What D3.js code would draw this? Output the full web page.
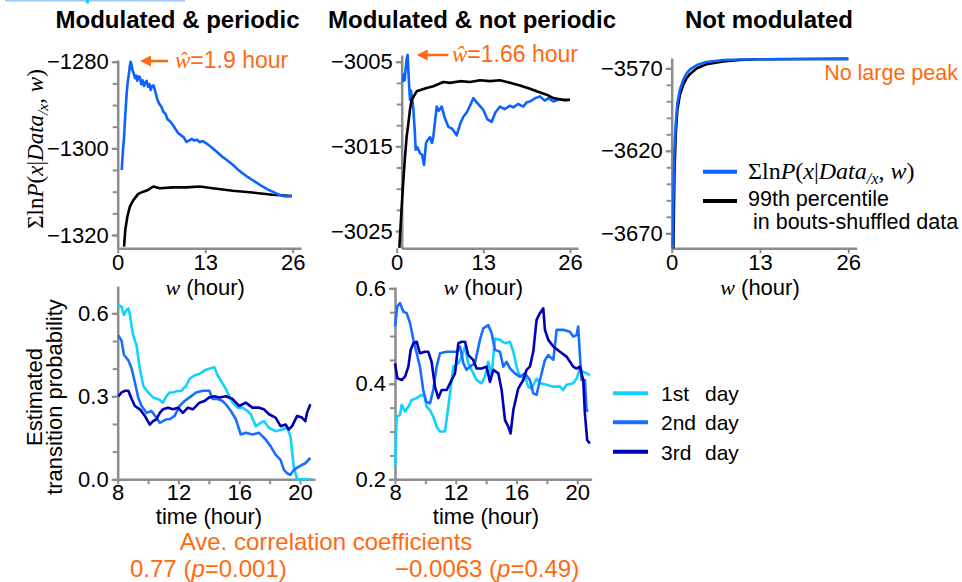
<!DOCTYPE html>
<html>
<head>
<meta charset="utf-8">
<script src="https://cdn.jsdelivr.net/npm/d3@7"></script>
<style>
  body { margin: 0; background: #fff; }
  svg { display: block; }
  text { font-family: "Liberation Sans", Arial, sans-serif; }
</style>
</head>
<body>
<div id="chart"></div>
<script>
// ---- data ----
// top row: [w (hour), sum log-likelihood]
const periodicBlue = [[0.6,-1305],[0.8,-1300],[0.94,-1297.5],[1.1,-1293],[1.33,-1287.3],[1.5,-1284.5],[1.65,-1283],[1.8,-1281],[1.92,-1280],[2.05,-1280.6],[2.2,-1282],[2.4,-1282.8],[2.56,-1283.8],[2.75,-1283.2],[2.9,-1284.4],[3.1,-1283.4],[3.3,-1283.6],[3.5,-1285.2],[3.7,-1284.3],[3.9,-1285.6],[4.1,-1284.8],[4.3,-1284.4],[4.5,-1285.8],[4.7,-1285.2],[4.9,-1286.5],[5.1,-1285.6],[5.35,-1285.5],[5.6,-1287],[5.9,-1288.8],[6.2,-1289.8],[6.5,-1290.4],[6.8,-1291.6],[7.1,-1292],[7.4,-1293.3],[7.8,-1293.8],[8.2,-1294.6],[8.6,-1295.6],[9.0,-1296.5],[9.4,-1297],[9.8,-1297.4],[10.2,-1298.5],[10.6,-1298.2],[11.0,-1297.8],[11.4,-1298.2],[11.8,-1298],[12.2,-1298.6],[12.6,-1298.3],[13.0,-1298.7],[13.5,-1299.2],[14.1,-1300],[14.8,-1300.9],[15.6,-1302],[16.3,-1302.8],[17.1,-1303.8],[17.8,-1304.8],[18.6,-1305.8],[19.3,-1306.6],[20,-1307.3],[20.8,-1308.1],[21.5,-1308.8],[22.2,-1309.4],[23,-1310],[23.8,-1310.6],[24.5,-1311],[25.2,-1311.1],[25.9,-1311]];
const periodicBlack = [[0.94,-1322.7],[1.13,-1318.8],[1.43,-1315.8],[1.8,-1313.5],[2.3,-1312],[3.05,-1310.5],[3.8,-1310],[4.5,-1309.6],[5.3,-1308.8],[6.25,-1309.2],[8.2,-1309],[10.2,-1309],[12.2,-1308.8],[14.1,-1309.2],[17.1,-1309.8],[20,-1310.2],[23,-1310.7],[25.9,-1311]];
const notPeriodicBlue = [[0.9,-3007.4],[1.05,-3006.5],[1.2,-3007.2],[1.35,-3005.8],[1.5,-3004.6],[1.65,-3004.2],[1.75,-3006],[1.85,-3007.6],[2.0,-3009.5],[2.15,-3008.4],[2.25,-3009.1],[2.4,-3009.8],[2.5,-3010.7],[2.7,-3013],[2.85,-3015.4],[3.1,-3015.1],[3.5,-3015.8],[3.8,-3016],[4.1,-3017.2],[4.4,-3014.6],[4.7,-3014.2],[5,-3013.9],[5.3,-3014.6],[5.5,-3013.8],[6,-3010.3],[6.3,-3010.8],[6.75,-3010.3],[7.2,-3011.6],[7.75,-3012.7],[8.3,-3012.9],[9,-3013.7],[9.5,-3012.4],[10,-3011.5],[10.5,-3011],[11,-3010.2],[11.5,-3009.3],[12,-3009.8],[13,-3010.7],[13.6,-3011.8],[14.25,-3012.1],[14.8,-3011],[15.5,-3010.3],[16.2,-3010.6],[17,-3010.2],[17.5,-3010.4],[18.2,-3010],[19,-3010.3],[19.5,-3009.8],[20,-3009.7],[20.8,-3009.3],[21.5,-3009.1],[22.2,-3009.6],[22.8,-3009.3],[23.5,-3009.7],[24.5,-3009.4],[25.2,-3009.6],[26,-3009.5]];
const notPeriodicBlack = [[0.4,-3027],[0.75,-3022.1],[1.0,-3019],[1.25,-3016.2],[1.5,-3013.8],[1.75,-3012.3],[2.0,-3010.6],[2.25,-3009.5],[3,-3008.5],[4.5,-3008.1],[5.5,-3007.9],[7,-3007.4],[8,-3007.5],[9.5,-3007.3],[11,-3007.4],[12.5,-3007.2],[14,-3007.3],[15.5,-3007.2],[17,-3007.5],[18.5,-3007.8],[20,-3008.2],[21,-3008.5],[22.5,-3008.9],[23.5,-3009.3],[24.8,-3009.5],[26,-3009.5]];
const flatBlue = [[0.15,-3679],[0.25,-3650],[0.4,-3619.6],[0.6,-3603.4],[0.83,-3591.3],[1.2,-3583],[1.7,-3577],[2.2,-3573],[2.7,-3570.6],[3.7,-3568],[5.1,-3566.2],[7.6,-3565],[10,-3564.7],[14,-3564.5],[20,-3564.4],[26,-3564.3]];
const flatBlack = [[0.25,-3679],[0.4,-3633.8],[0.6,-3609.5],[0.83,-3595.3],[1.2,-3586.2],[1.7,-3580],[2.2,-3576],[2.7,-3573.4],[3.7,-3570],[5.1,-3567.6],[7.6,-3565.8],[10,-3565],[12.5,-3564.5],[20,-3564.4],[26,-3564.3]];

// bottom row: [time (hour), estimated transition probability]
const periodicDay1 = [[8.04,0.63],[8.26,0.624],[8.41,0.594],[8.59,0.612],[8.70,0.618],[8.81,0.594],[8.92,0.551],[9.02,0.52],[9.24,0.484],[9.46,0.40],[9.68,0.338],[10.0,0.314],[10.33,0.296],[10.77,0.287],[10.98,0.277],[11.2,0.30],[11.42,0.314],[11.64,0.314],[11.86,0.318],[12.18,0.32],[12.51,0.338],[12.73,0.363],[13.05,0.375],[13.38,0.381],[13.71,0.393],[14.03,0.40],[14.36,0.405],[14.58,0.375],[14.8,0.356],[15.12,0.326],[15.56,0.277],[15.89,0.259],[16.21,0.259],[16.54,0.247],[16.76,0.235],[17.09,0.192],[17.41,0.204],[17.63,0.21],[17.96,0.186],[18.39,0.174],[18.83,0.18],[19.15,0.186],[19.37,0.156],[19.59,0.046],[19.81,0],[20.68,0]];
const periodicDay2 = [[8.04,0.52],[8.26,0.50],[8.41,0.45],[8.70,0.43],[8.92,0.40],[9.13,0.35],[9.35,0.296],[9.57,0.265],[9.9,0.24],[10.22,0.247],[10.55,0.223],[10.77,0.204],[10.98,0.21],[11.2,0.217],[11.42,0.217],[11.75,0.229],[12.07,0.265],[12.4,0.283],[12.73,0.296],[13.16,0.314],[13.6,0.32],[14.03,0.32],[14.25,0.29],[14.58,0.29],[14.9,0.283],[15.12,0.271],[15.45,0.247],[15.78,0.217],[16.1,0.162],[16.43,0.168],[16.87,0.162],[17.3,0.168],[17.74,0.144],[18.07,0.119],[18.39,0.089],[18.72,0.07],[18.94,0.034],[19.15,0.022],[19.37,0.016],[19.59,0.034],[19.92,0.046],[20.35,0.058],[20.68,0.077]];
const periodicDay3 = [[8.04,0.30],[8.26,0.314],[8.48,0.32],[8.70,0.32],[8.92,0.29],[9.13,0.265],[9.46,0.253],[9.79,0.229],[10.11,0.198],[10.33,0.21],[10.55,0.217],[10.77,0.24],[10.98,0.253],[11.31,0.259],[11.64,0.253],[11.97,0.259],[12.29,0.24],[12.62,0.259],[12.95,0.253],[13.38,0.277],[13.71,0.283],[14.03,0.296],[14.36,0.30],[14.69,0.296],[15.12,0.30],[15.56,0.29],[16.0,0.265],[16.43,0.277],[16.87,0.259],[17.3,0.259],[17.63,0.253],[17.96,0.235],[18.39,0.223],[18.72,0.192],[19.05,0.198],[19.26,0.18],[19.48,0.192],[19.81,0.229],[20.13,0.223],[20.35,0.21],[20.46,0.24],[20.68,0.271]];
const notPeriodicDay1 = [[8,0.227],[8.11,0.331],[8.33,0.335],[8.44,0.356],[8.66,0.342],[8.88,0.352],[9.1,0.366],[9.43,0.37],[9.75,0.377],[9.97,0.373],[10.08,0.352],[10.3,0.345],[10.52,0.331],[10.74,0.31],[10.96,0.3],[11.29,0.3],[11.51,0.352],[11.84,0.436],[12.17,0.443],[12.39,0.457],[12.61,0.478],[12.82,0.443],[13.04,0.429],[13.37,0.408],[13.7,0.401],[13.92,0.415],[14.14,0.446],[14.36,0.418],[14.58,0.495],[14.91,0.492],[15.24,0.485],[15.57,0.488],[15.79,0.467],[16.0,0.436],[16.22,0.415],[16.55,0.415],[16.77,0.394],[16.99,0.39],[17.32,0.411],[17.54,0.401],[17.98,0.398],[18.42,0.394],[18.86,0.394],[19.07,0.387],[19.29,0.398],[19.73,0.401],[19.95,0.411],[20.17,0.432],[20.39,0.425],[20.61,0.422],[20.83,0.418]];
const notPeriodicDay2 = [[8,0.52],[8.15,0.562],[8.33,0.569],[8.55,0.551],[8.77,0.548],[8.99,0.527],[9.21,0.492],[9.43,0.464],[9.64,0.436],[9.86,0.387],[10.04,0.363],[10.3,0.359],[10.52,0.387],[10.74,0.436],[10.96,0.464],[11.4,0.467],[11.84,0.467],[12.06,0.467],[12.28,0.478],[12.5,0.443],[12.71,0.429],[12.93,0.436],[13.26,0.443],[13.59,0.492],[13.81,0.516],[14.14,0.523],[14.36,0.506],[14.58,0.471],[14.91,0.467],[15.13,0.436],[15.35,0.446],[15.57,0.432],[15.89,0.422],[16.22,0.415],[16.55,0.422],[16.88,0.408],[17.1,0.38],[17.32,0.377],[17.54,0.408],[17.87,0.45],[18.09,0.46],[18.42,0.45],[18.64,0.513],[19.07,0.513],[19.51,0.509],[19.73,0.499],[19.95,0.502],[20.06,0.52],[20.17,0.46],[20.28,0.408],[20.5,0.408],[20.61,0.345],[20.72,0.342]];
const notPeriodicDay3 = [[8,0.443],[8.15,0.412],[8.44,0.408],[8.66,0.415],[8.88,0.436],[9.03,0.471],[9.21,0.485],[9.43,0.488],[9.64,0.464],[9.97,0.467],[10.19,0.467],[10.41,0.446],[10.63,0.394],[10.85,0.37],[11.07,0.387],[11.4,0.387],[11.62,0.401],[11.95,0.422],[12.17,0.485],[12.39,0.488],[12.61,0.488],[12.82,0.46],[13.15,0.45],[13.37,0.432],[13.7,0.432],[14.03,0.436],[14.25,0.404],[14.47,0.429],[14.8,0.422],[15.02,0.387],[15.24,0.324],[15.46,0.31],[15.61,0.296],[15.79,0.345],[16.11,0.39],[16.44,0.408],[16.66,0.429],[16.88,0.436],[17.1,0.467],[17.32,0.534],[17.54,0.548],[17.76,0.558],[17.87,0.513],[18.09,0.492],[18.42,0.478],[18.86,0.467],[19.29,0.457],[19.73,0.436],[19.95,0.432],[20.17,0.436],[20.39,0.408],[20.5,0.338],[20.65,0.282],[20.83,0.275]];

const titles = ["Modulated & periodic", "Modulated & not periodic", "Not modulated"];
const dayLabels = ["1st", "2nd", "3rd"];
const wTicks = [0, 13, 26];
const timeTicks = [8, 12, 16, 20];
const timeMinor = [8, 10, 12, 14, 16, 18, 20];

// ---- styles ----
const blue = "#0d63ff";
const dayColors = ["#10d2ff", "#1a6eff", "#0000b4"];
const orange = "#ff6a10";
const axisGray = "#8c8c8c";
const serif = "'Liberation Serif', 'Times New Roman', serif";

const svg = d3.select("#chart").append("svg").attr("width", 962).attr("height", 582);

// thin strip at the top edge of the figure
svg.append("rect").attr("x", 5).attr("y", 0).attr("width", 180).attr("height", 1.5).attr("fill", "#9cc8f2");
svg.append("rect").attr("x", 86).attr("y", 0).attr("width", 3).attr("height", 3.5).attr("fill", "#2ec8ff");

const panels = [
  { x: [0, 26], xr: [117.7, 292.7], y: [-1320, -1280], yr: [235, 61.7], ax: 117.7, top: 60, bottom: 248.3, right: 301,
    major: [-1320, -1300, -1280], minorStep: 5, xt: wTicks, xmin: wTicks, pad: 6, yfmt: d3.format("d"),
    series: [[periodicBlack, "#000"], [periodicBlue, blue]] },
  { x: [0, 26], xr: [396.7, 570], y: [-3025, -3005], yr: [231, 61.7], ax: 401.7, top: 55, bottom: 248.3, right: 578,
    major: [-3025, -3015, -3005], minorStep: 2.5, xt: wTicks, xmin: wTicks, pad: 6, yfmt: d3.format("d"),
    series: [[notPeriodicBlue, blue], [notPeriodicBlack, "#000"]] },
  { x: [0, 26], xr: [671.7, 848.3], y: [-3670, -3570], yr: [233.3, 68.3], ax: 671.7, top: 58, bottom: 248.3, right: 856.7,
    major: [-3670, -3620, -3570], minorStep: 10, xt: wTicks, xmin: wTicks, pad: 6, yfmt: d3.format("d"),
    series: [[flatBlack, "#000"], [flatBlue, blue]] },
  { x: [8, 20], xr: [117.7, 300], y: [0, 0.6], yr: [479.3, 313.3], ax: 117.7, top: 286, bottom: 479.3, right: 315,
    major: [0, 0.3, 0.6], minorStep: 0.1, xt: timeTicks, xmin: timeMinor, pad: 5, yfmt: d3.format(".1f"),
    series: [[periodicDay1, dayColors[0]], [periodicDay2, dayColors[1]], [periodicDay3, dayColors[2]]] },
  { x: [8, 20], xr: [395, 577.3], y: [0.2, 0.6], yr: [479.3, 288.3], ax: 395, top: 287, bottom: 479.3, right: 591.7,
    major: [0.2, 0.4, 0.6], minorStep: 0.05, xt: timeTicks, xmin: timeMinor, pad: 5, yfmt: d3.format(".1f"),
    series: [[notPeriodicDay1, dayColors[0]], [notPeriodicDay2, dayColors[1]], [notPeriodicDay3, dayColors[2]]] },
];

panels.forEach((p) => {
  const x = d3.scaleLinear().domain(p.x).range(p.xr);
  const y0 = d3.scaleLinear().domain(p.y).range(p.yr);
  const y = d3.scaleLinear().domain([y0.invert(p.bottom), y0.invert(p.top)]).range([p.bottom, p.top]);
  const xa = d3.scaleLinear().domain([x.invert(p.ax), x.invert(p.right)]).range([p.ax, p.right]);
  const g = svg.append("g");

  const lo = y.domain()[0], hi = y.domain()[1];
  const minor = d3.range(Math.ceil(lo / p.minorStep - 1e-6) * p.minorStep, hi + 1e-9, p.minorStep);

  // minor ticks (y)
  g.append("g").attr("transform", `translate(${p.ax},0)`)
    .call(d3.axisLeft(y).tickValues(minor).tickSize(5).tickSizeOuter(0).tickFormat(""))
    .call((a) => a.select(".domain").remove());
  // major ticks + labels (y)
  g.append("g").attr("transform", `translate(${p.ax},0)`)
    .call(d3.axisLeft(y).tickValues(p.major).tickSize(6).tickSizeOuter(0).tickPadding(3).tickFormat(p.yfmt))
    .call((a) => a.select(".domain").attr("stroke-width", 2.5));
  // x axis
  g.append("g").attr("transform", `translate(0,${p.bottom})`)
    .call(d3.axisBottom(xa).tickValues(p.xmin).tickSize(5).tickSizeOuter(0).tickFormat(""))
    .call((a) => a.select(".domain").attr("stroke-width", 2.5));
  g.append("g").attr("transform", `translate(0,${p.bottom})`)
    .call(d3.axisBottom(x).tickValues(p.xt).tickSize(0).tickPadding(p.pad).tickFormat(d3.format("d")))
    .call((a) => a.select(".domain").remove());

  g.selectAll(".tick line").attr("stroke", axisGray).attr("stroke-width", 2);
  g.selectAll(".domain").attr("stroke", axisGray);
  g.selectAll(".tick text").attr("fill", "#000").attr("font-size", 22)
    .attr("font-family", "'Liberation Sans', Arial, sans-serif");

  const line = d3.line().x((d) => x(d[0])).y((d) => y(d[1]));
  p.series.forEach(([data, color]) => {
    g.append("path").datum(data).attr("d", line).attr("fill", "none")
      .attr("stroke", color).attr("stroke-width", 2.6).attr("stroke-linejoin", "round");
  });
});

// ---- titles ----
[[177.5, titles[0]], [472, titles[1]], [769, titles[2]]].forEach(([cx, t]) => {
  svg.append("text").attr("x", cx).attr("y", 28).attr("text-anchor", "middle")
    .attr("font-size", 24).attr("font-weight", "bold").text(t);
});

// ---- math label helper ----
function mathText(sel, size) {
  const parts = [
    ["Σln", null], ["P", "i"], ["(", null], ["x", "i"], ["|", null], ["Data", "i"],
    ["/x", "sub"], [", ", null], ["w", "i"], [")", null],
  ];
  sel.attr("font-size", size);
  parts.forEach(([t, s], i) => {
    const ts = sel.append("tspan").text(t).attr("font-family", serif);
    if (s === "i") ts.attr("font-style", "italic");
    if (s === "sub") ts.attr("font-style", "italic").attr("font-size", size * 0.68).attr("dy", 5);
    if (i > 0 && parts[i - 1][1] === "sub") ts.attr("dy", -5);
  });
  return sel;
}

// y label, top row
mathText(svg.append("text").attr("text-anchor", "middle")
  .attr("transform", "translate(43,149) rotate(-90)"), 23);

// y label, bottom row
svg.append("text").attr("font-size", 22).attr("text-anchor", "middle")
  .attr("transform", "translate(42,397) rotate(-90)").text("Estimated");
svg.append("text").attr("font-size", 22).attr("text-anchor", "middle")
  .attr("transform", "translate(62,397) rotate(-90)").text("transition probability");

// x labels
[205.2, 483.3, 760].forEach((cx) => {
  const t = svg.append("text").attr("x", cx).attr("y", 295).attr("text-anchor", "middle").attr("font-size", 22);
  t.append("tspan").attr("font-family", serif).attr("font-style", "italic").text("w");
  t.append("tspan").text(" (hour)");
});
[209, 486].forEach((cx) => {
  svg.append("text").attr("x", cx).attr("y", 524).attr("text-anchor", "middle").attr("font-size", 22).text("time (hour)");
});

// ---- orange annotations ----
function peakNote(x1, x2, yy, tx, value) {
  svg.append("line").attr("x1", x1 + 8).attr("x2", x2).attr("y1", yy).attr("y2", yy)
    .attr("stroke", orange).attr("stroke-width", 2.5);
  svg.append("path").attr("d", `M${x1},${yy} L${x1 + 11},${yy - 5.5} L${x1 + 11},${yy + 5.5} Z`).attr("fill", orange);
  const t = svg.append("text").attr("x", tx).attr("y", yy + 7).attr("font-size", 23).attr("fill", orange);
  t.append("tspan").attr("font-family", serif).attr("font-style", "italic").text("ŵ");
  t.append("tspan").text("=" + value + " hour");
}
peakNote(140, 168, 61, 175, "1.9");
peakNote(416.7, 448.3, 55, 452, "1.66");

svg.append("text").attr("x", 958).attr("y", 80).attr("text-anchor", "end").attr("font-size", 21.5)
  .attr("fill", orange).text("No large peak");

// ---- legends ----
svg.append("line").attr("x1", 703).attr("x2", 737).attr("y1", 171.7).attr("y2", 171.7)
  .attr("stroke", blue).attr("stroke-width", 4);
mathText(svg.append("text").attr("x", 748).attr("y", 179), 24);
svg.append("line").attr("x1", 703).attr("x2", 737).attr("y1", 201).attr("y2", 201)
  .attr("stroke", "#000").attr("stroke-width", 4);
svg.append("text").attr("x", 748).attr("y", 206).attr("font-size", 21.5).text("99th percentile");
svg.append("text").attr("x", 753).attr("y", 229).attr("font-size", 21.5).text("in bouts-shuffled data");

[393.3, 422.3, 451.7].forEach((yy, i) => {
  svg.append("line").attr("x1", 613).attr("x2", 648).attr("y1", yy).attr("y2", yy)
    .attr("stroke", dayColors[i]).attr("stroke-width", 4);
  svg.append("text").attr("x", 661).attr("y", yy + 8).attr("font-size", 21).text(dayLabels[i]);
  svg.append("text").attr("x", 705).attr("y", yy + 8).attr("font-size", 21).text("day");
});

// ---- correlation notes ----
svg.append("text").attr("x", 326).attr("y", 550).attr("text-anchor", "middle").attr("font-size", 24)
  .attr("fill", orange).text("Ave. correlation coefficients");
function corrNote(x0, r, pv) {
  const t = svg.append("text").attr("x", x0).attr("y", 577).attr("font-size", 24).attr("fill", orange);
  t.append("tspan").text(r + " (");
  t.append("tspan").attr("font-style", "italic").text("p");
  t.append("tspan").text("=" + pv + ")");
}
corrNote(130, "0.77", "0.001");
corrNote(395, "\u22120.0063", "0.49");
</script>
</body>
</html>
